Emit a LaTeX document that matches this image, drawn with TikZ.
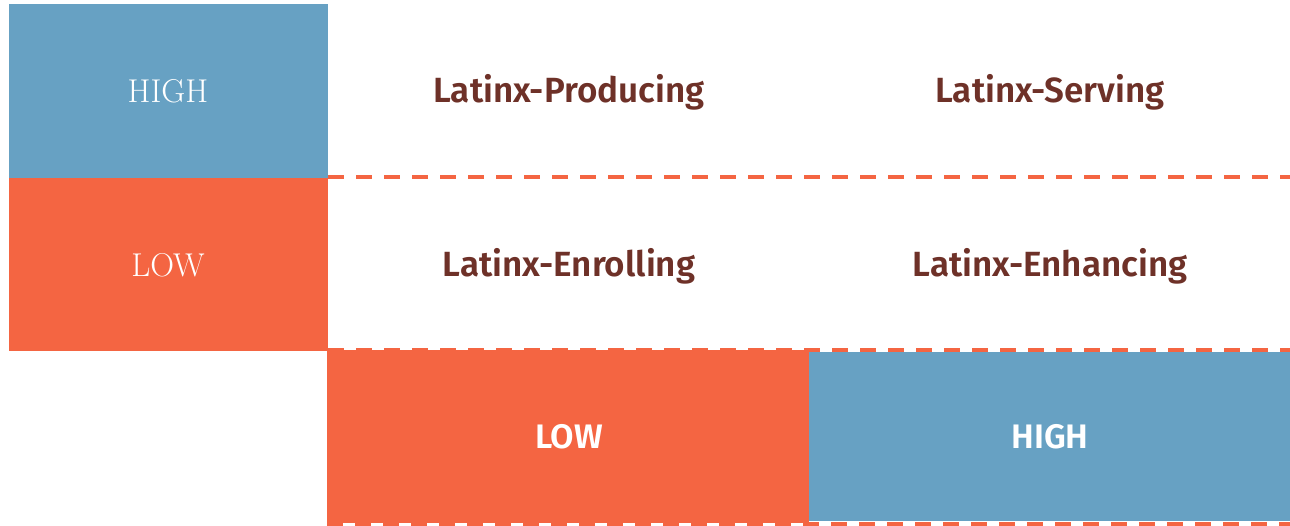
\documentclass[tikz,border=0pt]{standalone}
\usepackage{fontspec}
\newfontfamily\labelfont{Fira Sans}[UprightFont=* SemiBold]
\definecolor{cblue}{HTML}{67A1C3}
\definecolor{corange}{HTML}{F46542}
\definecolor{cbrown}{HTML}{6E3128}
\begin{document}
\begin{tikzpicture}[x=1pt,y=-1pt,
  axisserif/.style={text=white,anchor=base,inner sep=0pt,font=\fontsize{33}{33}\selectfont},
  axissans/.style={text=white,anchor=base,inner sep=0pt,font=\labelfont\fontsize{34}{34}\selectfont},
  catlabel/.style={text=cbrown,anchor=base,inner sep=0pt,font=\labelfont\fontsize{35}{35}\selectfont},
  divider/.style={draw=corange,line width=4pt,dash pattern=on 16pt off 12pt}]
\useasboundingbox (0,0) rectangle (1290,526);
% left axis boxes
\fill[cblue] (9,4) rectangle (328,178);
\fill[corange] (9,178) rectangle (328,351);
\node[axisserif] (yhigh) at (168,103) {HIGH};
\node[axisserif] (ylow) at (168,277) {LOW};
% bottom axis boxes
\fill[corange] (327,350) rectangle (809,523);
\fill[cblue] (809,352) rectangle (1290,521);
\node[axissans] (xlow) at (569,448) {LOW};
\node[axissans] (xhigh) at (1050,448) {HIGH};
% dashed dividers
\coordinate (d1a) at (328,177); \coordinate (d1b) at (1290,177);
\coordinate (d2a) at (328,350); \coordinate (d2b) at (1290,350);
\coordinate (d3a) at (327,524); \coordinate (d3b) at (1290,524);
\draw[divider] (d1a) -- (d1b);
\draw[divider] (d2a) -- (d2b);
\draw[divider] (d3a) -- (d3b);
% quadrant labels
\node[catlabel] (prod) at (569,103) {Latinx-Producing};
\node[catlabel] (serv) at (1050,103) {Latinx-Serving};
\node[catlabel] (enro) at (569,277) {Latinx-Enrolling};
\node[catlabel] (enha) at (1050,277) {Latinx-Enhancing};
\end{tikzpicture}
\end{document}
